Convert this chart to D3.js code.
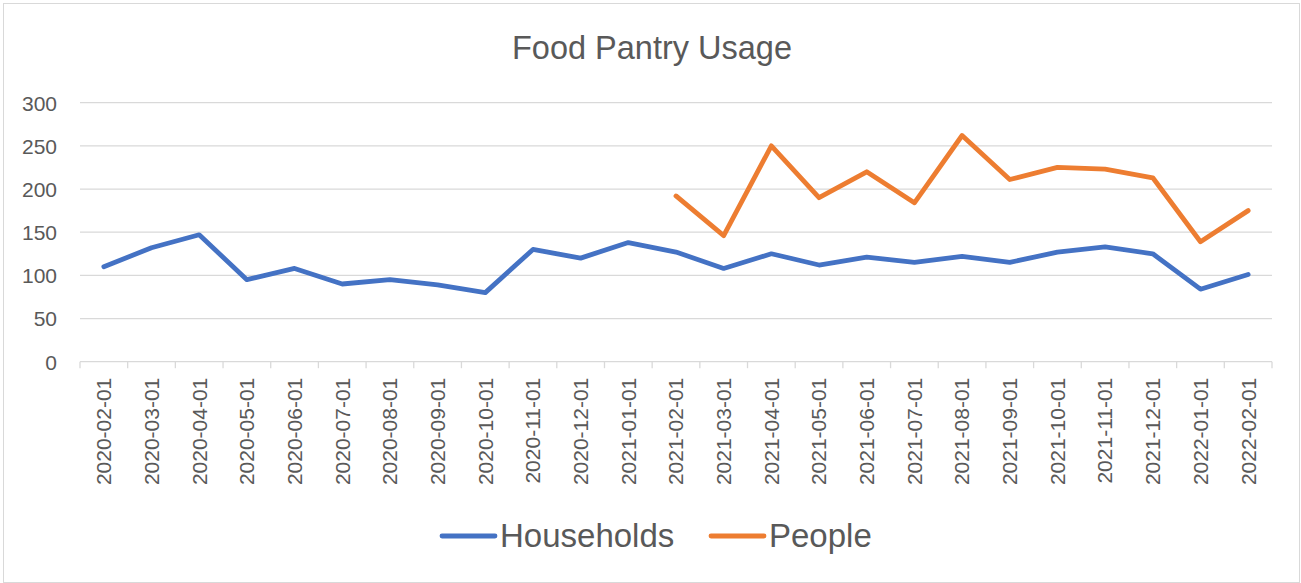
<!DOCTYPE html>
<html>
<head>
<meta charset="utf-8">
<script src="https://cdn.jsdelivr.net/npm/d3@7"></script>
<style>
  body { margin: 0; background: #fff; }
  text { font-family: "Liberation Sans", Arial, sans-serif; fill: #595959; }
</style>
</head>
<body>
<div id="chart"></div>
<script>
// months along the x axis
const months = ['2020-02-01','2020-03-01','2020-04-01','2020-05-01','2020-06-01','2020-07-01',
  '2020-08-01','2020-09-01','2020-10-01','2020-11-01','2020-12-01','2021-01-01','2021-02-01',
  '2021-03-01','2021-04-01','2021-05-01','2021-06-01','2021-07-01','2021-08-01','2021-09-01',
  '2021-10-01','2021-11-01','2021-12-01','2022-01-01','2022-02-01'];

const households = [110,132,147,95,108,90,95,89,80,130,120,138,127,108,125,112,121,115,122,115,127,133,125,84,101];
// people only recorded from 2021-02
const people = [null,null,null,null,null,null,null,null,null,null,null,null,
  192,146,250,190,220,184,262,211,225,223,213,139,175];

const yTicks = [0,50,100,150,200,250,300];

const width = 1301, height = 583;
const margin = { top: 102.7, left: 80, right: 29, bottom: 221.3 };

const svg = d3.select('#chart').append('svg')
  .attr('width', width)
  .attr('height', height);

// outer frame
svg.append('rect')
  .attr('x', 3.5).attr('y', 3.5)
  .attr('width', width - 5).attr('height', height - 4)
  .attr('fill', 'none')
  .attr('stroke', '#d9d9d9');

const x = d3.scaleBand()
  .domain(months)
  .range([margin.left, width - margin.right])
  .padding(0);

const y = d3.scaleLinear()
  .domain([0, 300])
  .range([height - margin.bottom, margin.top]);

// title
svg.append('text')
  .attr('x', 652).attr('y', 59)
  .attr('text-anchor', 'middle')
  .style('font-size', '32.5px')
  .text('Food Pantry Usage');

// gridlines
svg.selectAll('.grid')
  .data(yTicks.slice(1))
  .enter()
  .append('line')
  .classed('grid', true)
  .attr('x1', margin.left).attr('x2', width - margin.right)
  .attr('y1', d => y(d)).attr('y2', d => y(d))
  .attr('stroke', '#d9d9d9')
  .attr('stroke-width', 1.3);

// y axis labels
const yAxis = d3.axisLeft(y).tickValues(yTicks).tickSize(0).tickPadding(0);
const gy = svg.append('g')
  .attr('transform', 'translate(57,0)')
  .call(yAxis);
gy.select('.domain').remove();
gy.selectAll('text')
  .style('font-size', '21px')
  .style('font-family', '"Liberation Sans", Arial, sans-serif')
  .attr('fill', '#595959')
  .attr('dy', '0.35em');

// x axis: line + boundary ticks
const x0 = y(0);
svg.append('line')
  .attr('x1', margin.left).attr('x2', width - margin.right)
  .attr('y1', x0).attr('y2', x0)
  .attr('stroke', '#d9d9d9')
  .attr('stroke-width', 1.3);

const bounds = months.map(m => x(m)).concat([width - margin.right]);
svg.selectAll('.xtick')
  .data(bounds)
  .enter()
  .append('line')
  .classed('xtick', true)
  .attr('x1', d => d).attr('x2', d => d)
  .attr('y1', x0).attr('y2', x0 + 6.5)
  .attr('stroke', '#d9d9d9')
  .attr('stroke-width', 1.3);

svg.selectAll('.xlabel')
  .data(months)
  .enter()
  .append('text')
  .classed('xlabel', true)
  .attr('transform', d => `translate(${x(d) + x.bandwidth() / 2},${x0 + 16}) rotate(-90)`)
  .attr('text-anchor', 'end')
  .attr('dy', '0.35em')
  .style('font-size', '21px')
  .text(d => d);

// lines
const line = d3.line()
  .defined(d => d.v !== null)
  .x(d => x(d.m) + x.bandwidth() / 2)
  .y(d => y(d.v));

const series = [
  { name: 'Households', color: '#4472C4', values: households },
  { name: 'People', color: '#ED7D31', values: people }
];

series.forEach(s => {
  svg.append('path')
    .datum(months.map((m, i) => ({ m: m, v: s.values[i] })))
    .attr('d', line)
    .attr('fill', 'none')
    .attr('stroke', s.color)
    .attr('stroke-width', 4.8)
    .attr('stroke-linejoin', 'round')
    .attr('stroke-linecap', 'round');
});

// legend
const legendX = [442, 711];
series.forEach((s, i) => {
  const lx = legendX[i];
  svg.append('line')
    .attr('x1', lx).attr('x2', lx + 53)
    .attr('y1', 536).attr('y2', 536)
    .attr('stroke', s.color)
    .attr('stroke-width', 4.8)
    .attr('stroke-linecap', 'round');
  svg.append('text')
    .attr('x', lx + 58).attr('y', 547)
    .style('font-size', '33px')
    .text(s.name);
});
</script>
</body>
</html>
